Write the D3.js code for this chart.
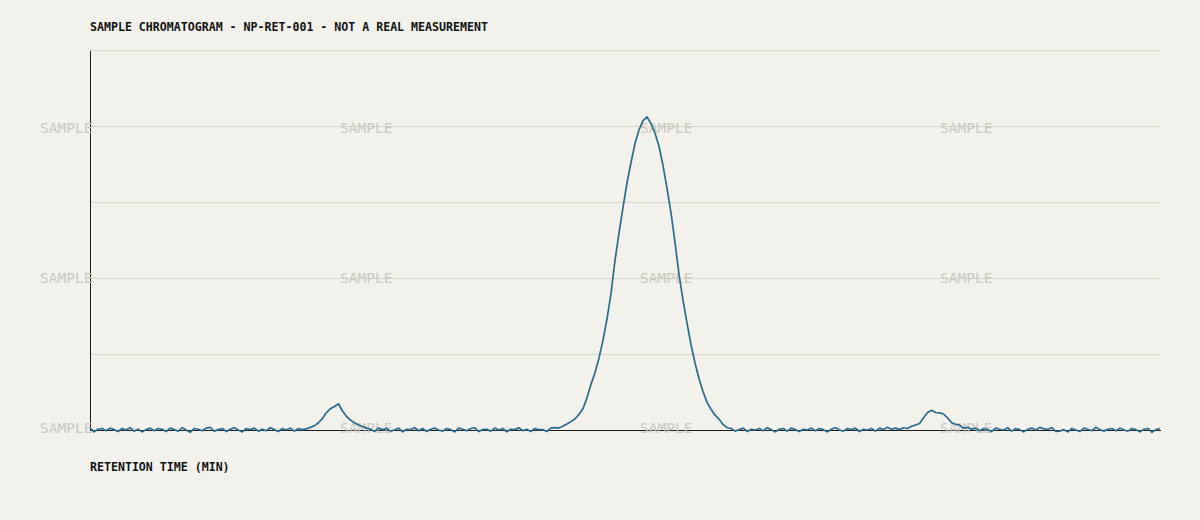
<!DOCTYPE html>
<html>
<head>
<meta charset="utf-8">
<script src="https://cdn.jsdelivr.net/npm/d3@7/dist/d3.min.js"></script>
<style>
  html, body { margin: 0; padding: 0; background: #f2f1ec; }
  svg { display: block; }
  text { font-family: "DejaVu Sans Mono", "Liberation Mono", monospace; }
</style>
</head>
<body>
<svg id="chart" width="1200" height="520"></svg>
<script>
// ---- data ----
const titleText = "SAMPLE CHROMATOGRAM - NP-RET-001 - NOT A REAL MEASUREMENT";
const xLabelText = "RETENTION TIME (MIN)";
const watermarkText = "SAMPLE";
const timeStart = 0;      // min
const timeStep = 0.1;     // min per sample
const yGridTicks = [20, 40, 60, 80, 100];
const signal = [
  0.6, -0.5, 0.2, 0.4, -0.2, 0.5, 0.1, -0.4, 0.4, 0.0,
  0.6, -0.3, 0.2, -0.5, 0.1, 0.5, -0.2, 0.4, 0.2, -0.4,
  0.5, 0.1, -0.3, 0.6, 0.0, -0.6, 0.4, 0.2, -0.2, 0.5,
  0.7, -0.3, 0.1, 0.4, -0.4, 0.2, 0.6, 0.0, -0.5, 0.4,
  0.1, 0.5, -0.3, 0.2, -0.2, 0.6, 0.1, -0.4, 0.4, 0.0,
  0.5, -0.3, 0.4, 0.1,
  0.3, 0.7, 1.1, 1.9, 3.0, 4.6, 5.6, 6.2, 6.9, 5.0, 3.6, 2.6, 1.9, 1.3, 0.9, 0.5,
  0.2, -0.4, 0.5, 0.1, 0.4, -0.3, 0.0, 0.5, -0.5, 0.2,
  0.1, 0.6, -0.2, 0.4, -0.4, 0.2, 0.5, 0.0, -0.3, 0.4,
  0.1, -0.5, 0.5, 0.2, -0.2, 0.4, 0.6, -0.4, 0.1, 0.2,
  -0.3, 0.5, 0.0, 0.4, -0.5, 0.2, 0.1, 0.6, -0.2, 0.2,
  -0.4, 0.4, 0.1,
  0.1, -0.4, 0.5, 0.6, 0.5, 1.0, 1.6, 2.2, 2.9, 4.1, 5.6, 8.4, 12.0, 15.0, 18.9, 23.6,
  29.2, 35.8, 44.6, 51.8, 58.6, 65.0, 70.4, 75.4, 79.0, 81.4, 82.4, 80.6, 78.1, 74.6,
  69.5, 63.5, 57.0, 49.2, 40.8, 34.0, 28.0, 22.3, 17.5, 13.4, 10.0, 7.2, 5.4, 3.9, 2.8, 1.4, 0.6,
  0.4, -0.3, 0.1, 0.5, -0.4, 0.2, 0.0, 0.4, -0.2, 0.6,
  0.1, -0.5, 0.2, 0.4, -0.3, 0.5, 0.1, -0.4, 0.2, 0.0,
  0.5, -0.2, 0.4, 0.1, -0.5, 0.2, 0.6, 0.0, -0.3, 0.4,
  0.1, 0.5, -0.4, 0.2, 0.0, 0.4, -0.3, 0.5, 0.1, 0.7,
  0.2, 0.5,
  0.1, 0.6, 0.4, 1.0, 1.3, 1.7, 3.2, 4.6, 5.2, 4.6, 4.5, 4.2, 3.2, 1.9, 1.5, 1.3, 0.5,
  0.7, 0.2, 0.5, -0.2, 0.4, 0.1, -0.4, 0.5, 0.2, 0.0,
  0.6, -0.3, 0.4, 0.1, -0.5, 0.2, 0.5, 0.0, 0.7, 0.3,
  0.2, 0.6, -0.4, -0.3, 0.1, -0.5, 0.4, 0.0, -0.4, 0.5,
  0.2, -0.2, 0.7, 0.1, -0.3, 0.2, 0.4, -0.2, 0.5, 0.0,
  -0.3, 0.4, 0.1, -0.5, 0.2, 0.4, -0.6, 0.1, 0.4
];
const watermarkCols = [0, 1, 2, 3];
const watermarkRows = [0, 1, 2];

// ---- layout ----
const margin = { left: 90, right: 40, top: 50, bottom: 90 };
const W = 1200, H = 520;
const plotW = W - margin.left - margin.right;
const plotH = H - margin.top - margin.bottom;

const points = signal.map((v, i) => ({ t: timeStart + i * timeStep, v }));
const tEnd = timeStart + (signal.length - 1) * timeStep;

const x = d3.scaleLinear().domain([timeStart, tEnd]).range([margin.left, margin.left + plotW]);
const y = d3.scaleLinear().domain([0, 100]).range([margin.top + plotH, margin.top]);

const svg = d3.select("#chart");
svg.append("rect").attr("width", W).attr("height", H).attr("fill", "#f2f1ec");

// gridlines
svg.append("g")
  .attr("transform", `translate(${margin.left},0)`)
  .call(d3.axisLeft(y).tickValues(yGridTicks).tickSize(-plotW).tickFormat(""))
  .call(g => g.select(".domain").remove())
  .call(g => g.selectAll(".tick line").attr("stroke", "#d6d4c4").attr("stroke-width", 1).attr("shape-rendering", "crispEdges"));

// axes
svg.append("g")
  .attr("transform", `translate(0,${margin.top + plotH})`)
  .call(d3.axisBottom(x).tickValues([]).tickSizeOuter(0))
  .call(g => g.select(".domain").attr("stroke", "#1a1a1a").attr("shape-rendering", "crispEdges"));
svg.append("g")
  .attr("transform", `translate(${margin.left},0)`)
  .call(d3.axisLeft(y).tickValues([]).tickSizeOuter(0))
  .call(g => g.select(".domain").attr("stroke", "#1a1a1a").attr("shape-rendering", "crispEdges"));

// watermarks
const wm = svg.append("g").attr("fill", "#c9c8c3").attr("font-size", "14.5px");
watermarkRows.forEach(r => {
  watermarkCols.forEach(c => {
    wm.append("text")
      .attr("x", 40 + c * 300)
      .attr("y", 133 + r * 150)
      .text(watermarkText);
  });
});

// trace
const line = d3.line().x(d => x(d.t)).y(d => y(d.v));
svg.append("path")
  .datum(points)
  .attr("fill", "none")
  .attr("stroke", "#2a6b8e")
  .attr("stroke-width", 1.7)
  .attr("stroke-linejoin", "round")
  .attr("d", line);

// title and axis label
svg.append("text")
  .attr("x", margin.left).attr("y", 31)
  .attr("font-size", "11.6px").attr("font-weight", "bold").attr("fill", "#111")
  .text(titleText);
svg.append("text")
  .attr("x", margin.left).attr("y", 471)
  .attr("font-size", "11.6px").attr("font-weight", "bold").attr("fill", "#111")
  .text(xLabelText);
</script>
</body>
</html>
